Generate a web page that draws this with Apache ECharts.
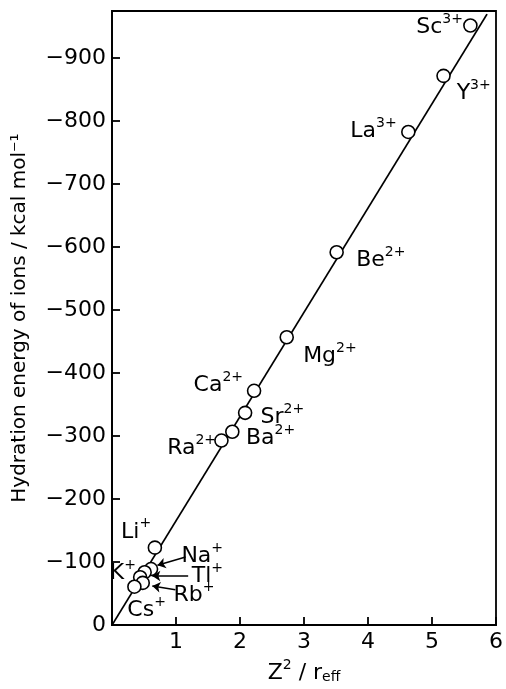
<!DOCTYPE html>
<html>
<head>
<meta charset="utf-8">
<script src="https://cdn.jsdelivr.net/npm/echarts@6/dist/echarts.min.js"></script>
<style>
  html, body { margin: 0; padding: 0; background: #fff; }
  #chart { width: 506px; height: 689px; }
</style>
</head>
<body>
<div id="chart"></div>
<script>
// ions: Z^2 / r_eff and -hydration energy (kcal/mol)
const ions    = ['Sc', 'Y', 'La', 'Be', 'Mg', 'Ca', 'Sr', 'Ba', 'Ra', 'Li', 'Na', 'K', 'Tl', 'Rb', 'Cs'];
const charges = ['3+', '3+', '3+', '2+', '2+', '2+', '2+', '2+', '2+', '+', '+', '+', '+', '+', '+'];
const zr      = [5.60, 5.18, 4.63, 3.51, 2.73, 2.22, 2.08, 1.88, 1.71, 0.67, 0.61, 0.51, 0.44, 0.48, 0.35];
const energy  = [952, 872, 783, 592, 457, 372, 337, 307, 293, 123, 89, 84, 76, 67, 61];

// fitted straight line through the origin
const fitLine = [[0, 0], [5.86, 970]];

// arrows pointing from labels to the crowded alkali points
const arrows = [
  { from: [1.15, 108], to: [0.71, 95] },   // Na+
  { from: [1.19, 78], to: [0.63, 78] },    // Tl+
  { from: [0.99, 56], to: [0.63, 62] }     // Rb+
];

const xTicks = [1, 2, 3, 4, 5, 6];

// label offsets (px, from circle centre)
const labelOffset = {
  Sc: [-30, 1], Y: [31, 16], La: [-34, -2], Be: [45, 7], Mg: [44, 18],
  Ca: [-35, -7], Sr: [38, 3], Ba: [39, 5], Ra: [-29, 7], Li: [-18, -17],
  Na: [52, -14], K: [-21, 0], Tl: [68, -2], Rb: [52, 11], Cs: [13, 22]
};

const FONT = 'DejaVu Sans';
const INK = '#000';
const SYM = 13;

const chart = echarts.init(document.getElementById('chart'));

const points = ions.map((name, i) => ({
  value: [zr[i], energy[i]],
  name: name,
  label: {
    show: true,
    position: [SYM / 2, SYM / 2],
    align: 'center',
    verticalAlign: 'middle',
    offset: labelOffset[name],
    formatter: '{b|' + name + '}{s|' + charges[i] + '}'
  }
}));

const option = {
  backgroundColor: '#fff',
  animation: false,
  grid: {
    left: 112, right: 3, top: 11, bottom: 52,
    show: true, borderColor: INK, borderWidth: 1.8, backgroundColor: 'transparent'
  },
  xAxis: {
    type: 'value',
    min: 0, max: 6, interval: 1,
    name: '{a|Z}{s|2}{a| / r}{e|eff}',
    nameLocation: 'middle',
    nameGap: 29,
    nameTextStyle: {
      rich: {
        a: { fontFamily: FONT, fontSize: 22, color: INK, lineHeight: 26, verticalAlign: 'bottom' },
        s: { fontFamily: FONT, fontSize: 14, color: INK, lineHeight: 15, verticalAlign: 'top' },
        e: { fontFamily: FONT, fontSize: 14, color: INK, lineHeight: 15, verticalAlign: 'bottom' }
      }
    },
    axisLine: { lineStyle: { color: INK, width: 1.8 } },
    axisTick: { inside: true, length: 8, lineStyle: { color: INK, width: 1.8 } },
    axisLabel: {
      margin: 6, color: INK, fontFamily: FONT, fontSize: 22,
      formatter: v => (xTicks.includes(v) ? String(v) : '')
    },
    splitLine: { show: false }
  },
  yAxis: {
    type: 'value',
    min: 0, max: 975, interval: 100,
    name: 'Hydration energy of ions / kcal mol\u207B\u00B9',
    nameLocation: 'middle',
    nameGap: 82,
    nameTextStyle: { fontFamily: FONT, fontSize: 20, color: INK },
    axisLine: { lineStyle: { color: INK, width: 1.8 } },
    axisTick: { inside: true, length: 8, lineStyle: { color: INK, width: 1.8 } },
    axisLabel: {
      margin: 6, color: INK, fontFamily: FONT, fontSize: 22,
      showMaxLabel: false,
      formatter: v => (v === 0 ? '0' : '\u2212' + v)
    },
    splitLine: { show: false }
  },
  series: [
    {
      type: 'line',
      data: fitLine,
      symbol: 'none',
      lineStyle: { color: INK, width: 1.8 },
      z: 1,
      markLine: {
        silent: true,
        symbol: ['none', 'arrow'],
        symbolSize: 8,
        lineStyle: { color: INK, width: 1.5, type: 'solid' },
        label: { show: false },
        data: arrows.map(a => [{ coord: a.from }, { coord: a.to }])
      }
    },
    {
      type: 'scatter',
      data: points,
      symbol: 'circle',
      symbolSize: SYM,
      itemStyle: { color: '#fff', borderColor: INK, borderWidth: 1.6, opacity: 1 },
      z: 3,
      label: {
        color: INK,
        textBorderWidth: 0,
        rich: {
          b: { fontFamily: FONT, fontSize: 22, color: INK, lineHeight: 26, verticalAlign: 'bottom' },
          s: { fontFamily: FONT, fontSize: 14, color: INK, lineHeight: 15, verticalAlign: 'top' }
        }
      }
    }
  ]
};

chart.setOption(option);
</script>
</body>
</html>
